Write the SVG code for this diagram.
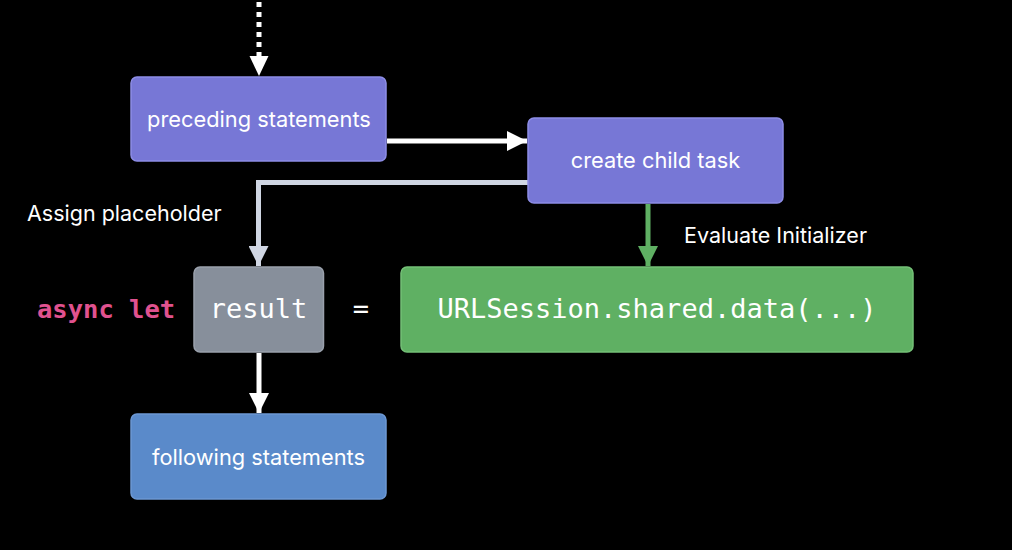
<svg xmlns="http://www.w3.org/2000/svg" width="1012" height="550" viewBox="0 0 1012 550">
<defs>
<style>
.box{stroke-width:1.5}
.purple{fill:#7777d6;stroke:#8d8de6}
.gray{fill:#878f9b;stroke:#9aa1ac}
.green{fill:#5fb063;stroke:#74c077}
.blue{fill:#5a8aca;stroke:#6c98d4}
.lbl{font-family:Inter,"Open Sans","Liberation Sans",sans-serif;font-size:21.8px;fill:#ffffff;text-anchor:middle}
.note{font-family:Inter,"Open Sans","Liberation Sans",sans-serif;font-size:21.5px;fill:#ffffff}
.code{font-family:"DejaVu Sans Mono","Liberation Mono",monospace;font-size:27px;fill:#ffffff}
.kw{font-family:"DejaVu Sans Mono","Liberation Mono",monospace;font-size:25.5px;font-weight:bold;fill:#e0528f}
.line{fill:none;stroke-width:5}
</style>
<marker id="ahW" markerWidth="20" markerHeight="20" viewBox="0 0 20 20" refX="20" refY="10" orient="auto" markerUnits="userSpaceOnUse"><path d="M0,0 L20,10 L0,20 Z" fill="#ffffff"/></marker>
<marker id="ahL" markerWidth="20" markerHeight="20" viewBox="0 0 20 20" refX="20" refY="10" orient="auto" markerUnits="userSpaceOnUse"><path d="M0,0 L20,10 L0,20 Z" fill="#d0d6e3"/></marker>
<marker id="ahG" markerWidth="20" markerHeight="20" viewBox="0 0 20 20" refX="20" refY="10" orient="auto" markerUnits="userSpaceOnUse"><path d="M0,0 L20,10 L0,20 Z" fill="#5fb063"/></marker>
</defs>
<rect width="1012" height="550" fill="#000000"/>
<g id="connectors">
<path class="line" d="M259,2 V58" stroke="#ffffff" stroke-dasharray="5,5"/>
<path d="M249.5,56 L268.5,56 L259,76 Z" fill="#ffffff"/>
<path class="line" d="M387,141 H527" stroke="#ffffff" marker-end="url(#ahW)"/>
<path class="line" d="M528,182.5 H258.5 V266" stroke="#d0d6e3" marker-end="url(#ahL)"/>
<path class="line" d="M648,204 V266" stroke="#5fb063" marker-end="url(#ahG)"/>
<path class="line" d="M259,353 V413" stroke="#ffffff" marker-end="url(#ahW)"/>
</g>
<g id="preceding">
<rect class="box purple" x="131" y="77" width="255" height="84" rx="6"/>
<text class="lbl" x="259" y="127">preceding statements</text>
</g>
<g id="create">
<rect class="box purple" x="528" y="118" width="255" height="85" rx="6"/>
<text class="lbl" x="655.5" y="168">create child task</text>
</g>
<g id="assign-label">
<text class="note" x="27" y="221">Assign placeholder</text>
</g>
<g id="evaluate-label">
<text class="note" x="684" y="243">Evaluate Initializer</text>
</g>
<g id="asynclet">
<text class="kw" x="37" y="318">async let</text>
</g>
<g id="result">
<rect class="box gray" x="194" y="267" width="129.5" height="85" rx="6"/>
<text class="code" x="258.5" y="318" text-anchor="middle">result</text>
</g>
<g id="equals">
<text class="code" x="361" y="318" text-anchor="middle">=</text>
</g>
<g id="initializer">
<rect class="box green" x="401" y="267" width="512" height="85" rx="6"/>
<text class="code" x="657" y="318" text-anchor="middle">URLSession.shared.data(...)</text>
</g>
<g id="following">
<rect class="box blue" x="131" y="414" width="255" height="85" rx="6"/>
<text class="lbl" x="258.5" y="465">following statements</text>
</g>
</svg>
